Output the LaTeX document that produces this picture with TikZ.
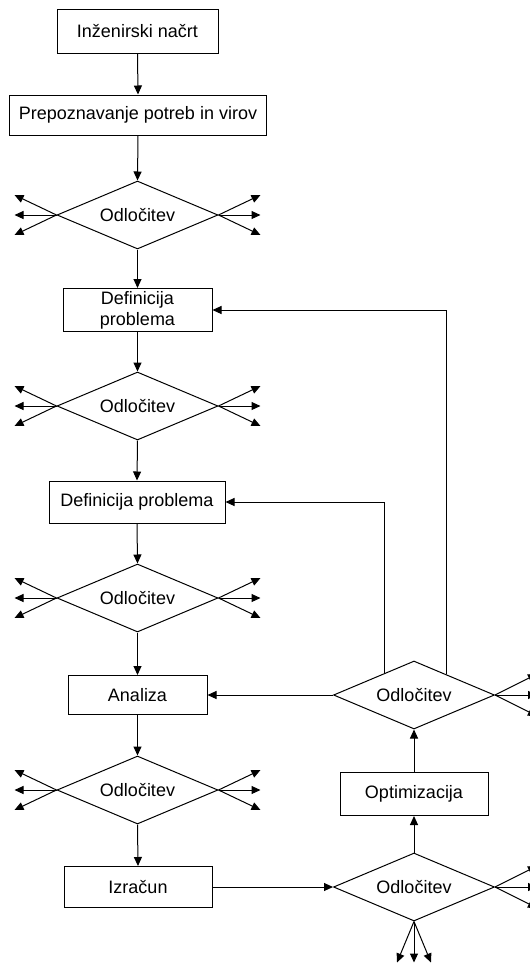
\documentclass[tikz,border=0pt]{standalone}
\usepackage{fontspec}
\setmainfont{Liberation Sans}
\usetikzlibrary{shapes.geometric,arrows.meta,calc}

\tikzset{
    box/.style={draw, line width=0.5pt, inner sep=1pt, align=center,
        font=\fontsize{9}{10.5}\selectfont},
    decision/.style={draw, diamond, aspect=2.4, line width=0.5pt, inner sep=0pt,
        minimum width=80.5pt, minimum height=34pt,
        font=\fontsize{9}{10.5}\selectfont},
    arr/.style={-{Triangle[length=4.5pt,width=4pt]}, line width=0.5pt}
}

\begin{document}
\begin{tikzpicture}[x=0.5pt, y=-0.5pt]
    \useasboundingbox (0,0) rectangle (530,964);

    % Left column
    \node[box, minimum width=80.5pt, minimum height=22pt] (plan) at (137.5,31) {Inženirski načrt};
    \node[box, minimum width=128.5pt, minimum height=20pt] (needs) at (138,115) {Prepoznavanje potreb in virov};
    \node[decision] (dec1) at (137.5,215) {Odločitev};
    \node[box, minimum width=74.5pt, minimum height=21.5pt] (def1) at (137.5,310) {Definicija\\problema};
    \node[decision] (dec2) at (137.5,406) {Odločitev};
    \node[box, minimum width=88pt, minimum height=21pt] (def2) at (137,502) {Definicija problema};
    \node[decision] (dec3) at (137.5,598) {Odločitev};
    \node[box, minimum width=69.5pt, minimum height=19.5pt] (analysis) at (137.5,695) {Analiza};
    \node[decision] (dec4) at (137.5,790) {Odločitev};
    \node[box, minimum width=74pt, minimum height=20.5pt] (calc) at (138,887) {Izračun};

    % Right column
    \node[decision] (decB) at (414,887) {Odločitev};
    \node[box, minimum width=74pt, minimum height=21.5pt] (optim) at (414,794) {Optimizacija};
    \node[decision] (decA) at (414,695) {Odločitev};

    % Main flow
    \draw[arr] (plan.south) -- (needs.north);
    \draw[arr] (needs.south) -- (dec1.north);
    \draw[arr] (dec1.south) -- (def1.north);
    \draw[arr] (def1.south) -- (dec2.north);
    \draw[arr] (dec2.south) -- (def2.north);
    \draw[arr] (def2.south) -- (dec3.north);
    \draw[arr] (dec3.south) -- (analysis.north);
    \draw[arr] (analysis.south) -- (dec4.north);
    \draw[arr] (dec4.south) -- (calc.north);
    \draw[arr] (calc.east) -- (decB.west);
    \draw[arr] (decB.north) -- (optim.south);
    \draw[arr] (optim.north) -- (decA.south);
    \draw[arr] (decA.west) -- (analysis.east);

    % Feedback
    \draw[arr] ($(decA.west)!0.63!(decA.north)$) |- (def2.east);
    \draw[arr] ($(decA.north)!0.395!(decA.east)$) |- (def1.east);

    % Fan-out arrows
    \foreach \d in {dec1,dec2,dec3,dec4} {
        \foreach \dy in {-20,0,20} {
            \draw[arr] (\d.west) -- ++(-42,\dy);
            \draw[arr] (\d.east) -- ++(42,\dy);
        }
    }
    \foreach \d in {decA,decB} {
        \foreach \dy in {-21,0,21} {
            \draw[arr] (\d.east) -- ++(42,\dy);
        }
    }
    \draw[arr] (decB.south) -- ++(-17,41);
    \draw[arr] (decB.south) -- ++(0,41);
    \draw[arr] (decB.south) -- ++(17,41);
\end{tikzpicture}
\end{document}
